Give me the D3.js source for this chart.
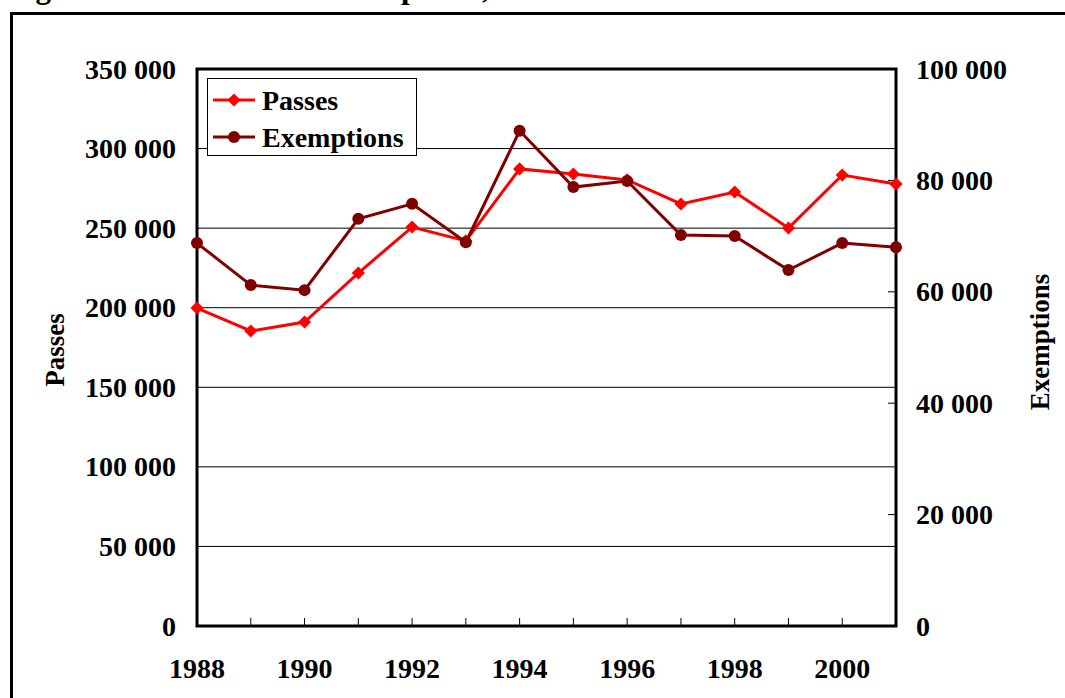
<!DOCTYPE html>
<html>
<head>
<meta charset="utf-8">
<script src="https://cdn.jsdelivr.net/npm/d3@7"></script>
<style>
  body { margin: 0; background: #fff; }
  svg text { font-family: "Liberation Serif", "Times New Roman", serif; font-weight: bold; fill: #000; }
</style>
</head>
<body>
<svg id="chart"></svg>
<script>
// chart data
const years = [1988, 1989, 1990, 1991, 1992, 1993, 1994, 1995, 1996, 1997, 1998, 1999, 2000, 2001];
const passes = [199800, 185400, 191000, 221800, 250700, 242000, 287200, 284000, 280300, 265200, 272700, 250100, 283400, 277700];
const exemptions = [68750, 61200, 60300, 73100, 75800, 68900, 88900, 78800, 79900, 70200, 70000, 63900, 68750, 68000];
const leftTicks = [0, 50000, 100000, 150000, 200000, 250000, 300000, 350000];
const rightTicks = [0, 20000, 40000, 60000, 80000, 100000];
const labelYears = [1988, 1990, 1992, 1994, 1996, 1998, 2000];

const width = 1065, height = 698;
const plot = { left: 197, right: 896, top: 69, bottom: 626 };

const svg = d3.select("#chart")
    .attr("width", width)
    .attr("height", height);

// title, mostly cut off at the top edge (as in the original)
svg.append("text")
    .attr("x", 8)
    .attr("y", -2)
    .style("font-size", "31px")
    .text("Figure 10.1: Passes and Exemptions, 1988-2001");

// outer frame
svg.append("rect")
    .attr("x", 11.5)
    .attr("y", 13.5)
    .attr("width", width + 20)
    .attr("height", height + 20)
    .attr("fill", "none")
    .attr("stroke", "#000")
    .attr("stroke-width", 3);

const x = d3.scalePoint()
    .domain(years)
    .range([plot.left, plot.right]);

const yLeft = d3.scaleLinear()
    .domain([0, 350000])
    .range([plot.bottom, plot.top]);

const yRight = d3.scaleLinear()
    .domain([0, 100000])
    .range([plot.bottom, plot.top]);

const fmt = d => d3.format(",")(d).replace(/,/g, " ");

// gridlines
svg.selectAll("line.grid")
    .data(leftTicks.filter(d => d > 0 && d < 350000))
    .enter()
    .append("line")
    .attr("class", "grid")
    .attr("x1", plot.left)
    .attr("x2", plot.right)
    .attr("y1", d => yLeft(d))
    .attr("y2", d => yLeft(d))
    .attr("stroke", "#000")
    .attr("stroke-width", 1);

// x ticks (inward)
svg.selectAll("line.xtick")
    .data(years.slice(1, -1))
    .enter()
    .append("line")
    .attr("class", "xtick")
    .attr("x1", d => x(d))
    .attr("x2", d => x(d))
    .attr("y1", plot.bottom)
    .attr("y2", plot.bottom - 8)
    .attr("stroke", "#000")
    .attr("stroke-width", 1);

// right ticks (inward)
svg.selectAll("line.rtick")
    .data(rightTicks.slice(1, -1))
    .enter()
    .append("line")
    .attr("class", "rtick")
    .attr("x1", plot.right)
    .attr("x2", plot.right - 8)
    .attr("y1", d => yRight(d))
    .attr("y2", d => yRight(d))
    .attr("stroke", "#000")
    .attr("stroke-width", 1);

// plot border
svg.append("rect")
    .attr("x", plot.left)
    .attr("y", plot.top)
    .attr("width", plot.right - plot.left)
    .attr("height", plot.bottom - plot.top)
    .attr("fill", "none")
    .attr("stroke", "#000")
    .attr("stroke-width", 3);

// left tick labels
svg.selectAll("text.lt")
    .data(leftTicks)
    .enter()
    .append("text")
    .attr("class", "lt")
    .attr("x", 176)
    .attr("y", d => yLeft(d))
    .attr("text-anchor", "end")
    .attr("dominant-baseline", "central")
    .style("font-size", "28px")
    .text(fmt);

// right tick labels
svg.selectAll("text.rt")
    .data(rightTicks)
    .enter()
    .append("text")
    .attr("class", "rt")
    .attr("x", 916)
    .attr("y", d => yRight(d))
    .attr("dominant-baseline", "central")
    .style("font-size", "28px")
    .text(fmt);

// x labels
svg.selectAll("text.xl")
    .data(labelYears)
    .enter()
    .append("text")
    .attr("class", "xl")
    .attr("x", d => x(d))
    .attr("y", 668)
    .attr("text-anchor", "middle")
    .attr("dominant-baseline", "central")
    .style("font-size", "28px")
    .text(d => d);

// axis titles
svg.append("text")
    .attr("transform", "translate(55,350) rotate(-90)")
    .attr("text-anchor", "middle")
    .attr("dominant-baseline", "central")
    .style("font-size", "27px")
    .text("Passes");

svg.append("text")
    .attr("transform", "translate(1040,342) rotate(-90)")
    .attr("text-anchor", "middle")
    .attr("dominant-baseline", "central")
    .style("font-size", "27px")
    .text("Exemptions");

// lines
const passColor = "#ff0000";
const exColor = "#800000";

const linePasses = d3.line()
    .x((d, i) => x(years[i]))
    .y(d => yLeft(d));

const lineEx = d3.line()
    .x((d, i) => x(years[i]))
    .y(d => yRight(d));

svg.append("path")
    .datum(passes)
    .attr("d", linePasses)
    .attr("fill", "none")
    .attr("stroke", passColor)
    .attr("stroke-width", 3);

svg.append("path")
    .datum(exemptions)
    .attr("d", lineEx)
    .attr("fill", "none")
    .attr("stroke", exColor)
    .attr("stroke-width", 3);

const diamond = d3.symbol().type(d3.symbolDiamond2).size(110);

svg.selectAll("path.pm")
    .data(passes)
    .enter()
    .append("path")
    .attr("class", "pm")
    .attr("d", diamond)
    .attr("transform", (d, i) => `translate(${x(years[i])},${yLeft(d)})`)
    .attr("fill", passColor);

svg.selectAll("circle.em")
    .data(exemptions)
    .enter()
    .append("circle")
    .attr("class", "em")
    .attr("cx", (d, i) => x(years[i]))
    .attr("cy", d => yRight(d))
    .attr("r", 6)
    .attr("fill", exColor);

// legend
const legend = svg.append("g");
legend.append("rect")
    .attr("x", 207.5)
    .attr("y", 78.5)
    .attr("width", 209)
    .attr("height", 77)
    .attr("fill", "#fff")
    .attr("stroke", "#000")
    .attr("stroke-width", 1);

const legendItems = [
    { name: "Passes", color: passColor, shape: "diamond", y: 100 },
    { name: "Exemptions", color: exColor, shape: "circle", y: 137 }
];

legendItems.forEach(item => {
    legend.append("line")
        .attr("x1", 213)
        .attr("x2", 255)
        .attr("y1", item.y)
        .attr("y2", item.y)
        .attr("stroke", item.color)
        .attr("stroke-width", 3);
    if (item.shape === "diamond") {
        legend.append("path")
            .attr("d", diamond)
            .attr("transform", `translate(234,${item.y})`)
            .attr("fill", item.color);
    } else {
        legend.append("circle")
            .attr("cx", 234)
            .attr("cy", item.y)
            .attr("r", 6)
            .attr("fill", item.color);
    }
    legend.append("text")
        .attr("x", 262)
        .attr("y", item.y)
        .attr("dominant-baseline", "central")
        .style("font-size", "28px")
        .text(item.name);
});
</script>
</body>
</html>
